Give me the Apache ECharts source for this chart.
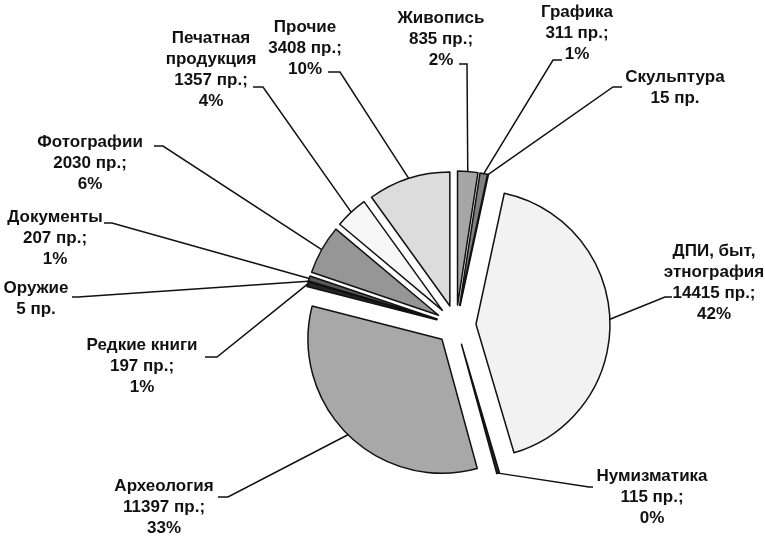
<!DOCTYPE html>
<html>
<head>
<meta charset="utf-8">
<script src="https://cdn.jsdelivr.net/npm/echarts@6/dist/echarts.min.js"></script>
<style>
  html, body { margin: 0; background: #fff; }
  #chart { width: 765px; height: 537px; }
</style>
</head>
<body>
<div id="chart"></div>
<script>
// категории по часовой стрелке от верха
const categories = ['Живопись', 'Графика', 'Скульптура', 'ДПИ, быт,\nэтнография', 'Нумизматика', 'Археология',
  'Редкие книги', 'Оружие', 'Документы', 'Фотографии', 'Печатная\nпродукция', 'Прочие'];
// количество предметов
const counts = [835, 311, 15, 14415, 115, 11397, 197, 5, 207, 2030, 1357, 3408];
// показывать ли процент в подписи
const showPercent = [true, true, false, true, true, true, true, false, true, true, true, true];

// цвета секторов (оттенки серого)
const sliceColors = ['#a6a6a6', '#808080', '#404040', '#f2f2f2', '#262626', '#a8a8a8',
  '#262626', '#000000', '#595959', '#969696', '#f7f7f7', '#dcdcdc'];
// центры подписей
const labelPos = [[441, 39], [577, 33], [675, 88], [714, 283], [652, 497], [164, 507],
  [142, 366], [36, 299], [55, 238], [90, 163], [211, 70], [305, 48]];
// конец выноски: x, y, сдвиг точки излома по горизонтали
const lineEnd = [[459, 64, 8], [562, 60, -9], [622, 87, -9], [672, 297, -7], [593, 487, -4], [218, 497, 10],
  [205, 357, 12], [72, 297, 6], [104, 223, 8], [154, 146, 9], [253, 87, 10], [328, 72, 12]];

const R = 134;        // радиус
const OFFSET = 20;    // вынос секторов

const chart = echarts.init(document.getElementById('chart'));

chart.setOption({
  animation: false,
  series: [
    {
      // видимая разрезанная диаграмма
      type: 'pie',
      center: [456, 325],
      radius: [0, R],
      startAngle: 90,
      clockwise: true,
      selectedMode: 'multiple',
      selectedOffset: OFFSET,
      silent: true,
      itemStyle: { borderColor: '#111', borderWidth: 1.5 },
      label: { show: false },
      labelLine: { show: false },
      data: categories.map((name, i) => ({
        name: name,
        value: counts[i],
        selected: true,
        itemStyle: { color: sliceColors[i] }
      }))
    },
    {
      // прозрачная копия только для подписей и выносок
      type: 'pie',
      center: [456, 325],
      radius: [0, R + OFFSET],
      startAngle: 90,
      clockwise: true,
      silent: true,
      itemStyle: { color: 'rgba(0,0,0,0)', borderWidth: 0 },
      label: {
        show: true,
        position: 'outside',
        color: '#111',
        fontFamily: 'Liberation Sans, Arial, sans-serif',
        fontWeight: 'bold',
        fontSize: 17,
        lineHeight: 21,
        formatter: p => {
          const i = p.dataIndex;
          let s = p.name + '\n' + p.value + ' пр.';
          if (showPercent[i]) s += ';\n' + Math.round(p.percent) + '%';
          return s;
        }
      },
      labelLine: { show: true, length: 10, length2: 8, lineStyle: { color: '#111', width: 1.5 } },
      labelLayout: params => {
        const i = params.dataIndex;
        const p = labelPos[i];
        const e = lineEnd[i];
        const start = params.labelLinePoints ? params.labelLinePoints[0] : [e[0], e[1]];
        return {
          x: p[0], y: p[1], align: 'center', verticalAlign: 'middle',
          labelLinePoints: [start, [e[0] + e[2], e[1]], [e[0], e[1]]]
        };
      },
      emphasis: { disabled: true },
      data: categories.map((name, i) => ({ name: name, value: counts[i] }))
    }
  ]
});
</script>
</body>
</html>
